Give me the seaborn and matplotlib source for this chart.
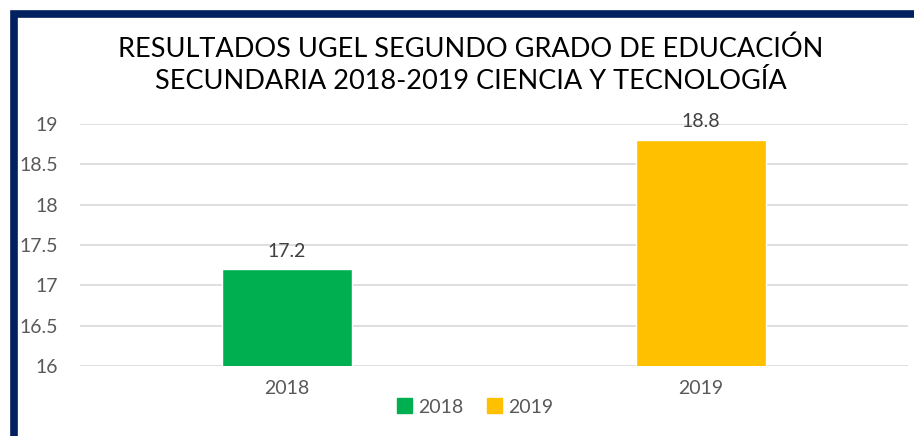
import matplotlib
matplotlib.use("Agg")
import matplotlib.pyplot as plt
from matplotlib.patches import Rectangle, Patch
import pandas as pd
import seaborn as sns

years = ["2018", "2019"]
scores = [17.2, 18.8]
colors = ["#00B050", "#FFC000"]
title = "RESULTADOS UGEL SEGUNDO GRADO DE EDUCACIÓN\nSECUNDARIA 2018-2019 CIENCIA Y TECNOLOGÍA"
yticks = [16, 16.5, 17, 17.5, 18, 18.5, 19]

df = pd.DataFrame({"year": years, "score": scores})

sns.set_theme(style="white")
plt.rcParams["font.family"] = ["Lato", "DejaVu Sans"]

fig = plt.figure(figsize=(9.14, 4.36), dpi=100)
ax = fig.add_axes([80 / 914, 1 - 366 / 436, 828 / 914, 242 / 436])

sns.barplot(data=df, x="year", y="score", hue="year", palette=colors,
            saturation=1, dodge=False, width=0.315, legend=False, ax=ax, zorder=3)

ax.set_ylim(16, 19)
ax.set_yticks(yticks)
ax.set_yticklabels([f"{t:g}" for t in yticks], fontsize=14, color="#595959")
ax.tick_params(axis="x", labelsize=14, labelcolor="#595959", pad=10, length=0)
ax.tick_params(axis="y", length=0, pad=16)
ax.yaxis.grid(True, color="#d9d9d9", lw=1.2, zorder=0)
ax.set_xlabel("")
ax.set_ylabel("")
for s in ax.spines.values():
    s.set_visible(False)

for i, v in enumerate(scores):
    ax.text(i, v + 0.12, f"{v}", ha="center", va="bottom", fontsize=14, color="#404040")

fig.text(0.515, 0.85, title, ha="center", va="center", fontsize=19.5, color="black",
         linespacing=1.32)

handles = [Patch(color=c, label=y) for c, y in zip(colors, years)]
fig.legend(handles=handles, loc="center", bbox_to_anchor=(475 / 914, 1 - 407 / 436),
           ncol=2, frameon=False, fontsize=14, handlelength=0.8, handleheight=0.8,
           handletextpad=0.3, columnspacing=1.2, labelcolor="#595959")

fig.patches.append(Rectangle((13.5 / 914, -0.2), 1.2, (436 - 13.5) / 436 + 0.2,
                             transform=fig.transFigure, fill=False,
                             edgecolor="#002060", lw=5.5, zorder=10))

fig.savefig("out.png", dpi=100)
